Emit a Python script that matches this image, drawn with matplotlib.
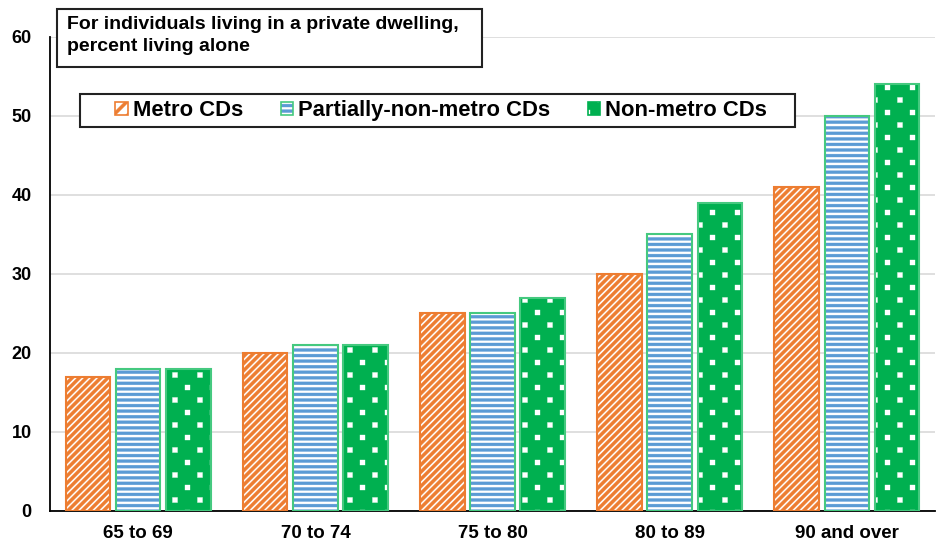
import matplotlib
matplotlib.use("Agg")
import matplotlib.pyplot as plt
import matplotlib.hatch as mhatch
from matplotlib.path import Path
from matplotlib.patches import Rectangle
from matplotlib.legend_handler import HandlerTuple
import numpy as np

plt.rcParams['font.family'] = ['Liberation Sans', 'DejaVu Sans']
plt.rcParams['font.weight'] = 'bold'
plt.rcParams['hatch.linewidth'] = 0.25

categories = ["65 to 69", "70 to 74", "75 to 80", "80 to 89", "90 and over"]
series_names = ["Metro CDs", "Partially-non-metro CDs", "Non-metro CDs"]
metro = [17, 20, 25, 30, 41]
partial = [18, 21, 25, 35, 50]
nonmetro = [18, 21, 27, 39, 54]
y_ticks = [0, 10, 20, 30, 40, 50, 60]

ORANGE = "#ED7D31"
BLUE = "#5B9BD5"
GREEN = "#00B050"
GREEN_EDGE = "#45C97F"


# --- custom fill patterns (solid polygons, so the stripe width is geometric) ---
class _PolygonHatch(mhatch.HatchPatternBase):
    def _finish(self, polys):
        self.polys = polys
        self.num_vertices = sum(len(p) + 1 for p in polys)

    def set_vertices_and_codes(self, vertices, codes):
        i = 0
        for p in self.polys:
            n = len(p)
            vertices[i:i + n] = p
            vertices[i + n] = p[0]
            codes[i] = Path.MOVETO
            codes[i + 1:i + n] = Path.LINETO
            codes[i + n] = Path.CLOSEPOLY
            i += n + 1


class DiagonalBands(_PolygonHatch):
    """'/' bands: 7 bands per '/' character."""
    half = 0.022

    def __init__(self, hatch, density):
        n = hatch.count('/') * 7
        polys = []
        if n:
            for k in range(-n // 2 - 1, n // 2 + 2):
                c = 2.0 * k / n
                h = self.half
                polys.append(np.array([[c - h - 0.1, -0.1], [c + h - 0.1, -0.1],
                                       [c + h + 1.1, 1.1], [c - h + 1.1, 1.1]]))
        self._finish(polys)


class HorizontalBands(_PolygonHatch):
    """'-' bands: 6 bands per '-' character."""
    half = 0.0145

    def __init__(self, hatch, density):
        n = hatch.count('-') * 6
        polys = []
        for k in range(n + 1) if n else []:
            y = k / n
            h = self.half
            polys.append(np.array([[-0.1, y - h], [1.1, y - h], [1.1, y + h], [-0.1, y + h]]))
        self._finish(polys)


class SquareDots(_PolygonHatch):
    """Staggered grid of small filled squares, one grid per '*'."""
    ncols = 4
    nrows = 8
    side = 0.05

    def __init__(self, hatch, density):
        polys = []
        if hatch.count('*'):
            h = self.side / 2
            for r in range(self.nrows + 1):
                y = r / self.nrows
                shift = 0.0 if r % 2 == 0 else 0.5 / self.ncols
                for c in range(-1, self.ncols + 1):
                    cx = c / self.ncols + shift
                    polys.append(np.array([[cx - h, y - h], [cx + h, y - h],
                                           [cx + h, y + h], [cx - h, y + h]]))
        self._finish(polys)


mhatch._hatch_types = [t for t in mhatch._hatch_types
                       if t not in (mhatch.NorthEastHatch, mhatch.HorizontalHatch, mhatch.Stars)]
mhatch._hatch_types += [DiagonalBands, HorizontalBands, SquareDots]


fig = plt.figure(figsize=(9.39, 5.43), dpi=100)
ax = fig.add_axes([0.053, 0.059, 0.943, 0.873])

x = np.arange(len(categories))
w = 0.25
off = 0.283

# Metro: orange diagonal stripes on white
ax.bar(x - off, metro, w, facecolor="white", edgecolor=ORANGE, hatch="////", linewidth=0, zorder=3)
ax.bar(x - off, metro, w, fill=False, edgecolor=ORANGE, linewidth=1.5, zorder=4)

# Partially-non-metro: blue horizontal stripes, green outline
ax.bar(x, partial, w, facecolor="white", edgecolor=BLUE, hatch="---", linewidth=0, zorder=3)
ax.bar(x, partial, w, fill=False, edgecolor=GREEN_EDGE, linewidth=1.5, zorder=4)

# Non-metro: green with white squares
ax.bar(x + off, nonmetro, w, facecolor=GREEN, edgecolor="white", hatch="*", linewidth=0, zorder=3)
ax.bar(x + off, nonmetro, w, fill=False, edgecolor=GREEN_EDGE, linewidth=1.5, zorder=4)

ax.set_xlim(-0.5, len(categories) - 0.5)
ax.set_ylim(0, 60)
ax.set_yticks(y_ticks)
ax.set_yticklabels([str(v) for v in y_ticks], fontsize=13, fontweight='bold')
ax.set_xticks(x)
ax.set_xticklabels(categories, fontsize=13.5, fontweight='bold')
ax.tick_params(axis='x', length=0, pad=10)
ax.tick_params(axis='y', length=0, pad=13)
ax.yaxis.grid(True, color="#D9D9D9", linewidth=1.2, zorder=0)
ax.set_axisbelow(True)
for s in ["top", "right"]:
    ax.spines[s].set_visible(False)
for s in ["left", "bottom"]:
    ax.spines[s].set_color("black")
    ax.spines[s].set_linewidth(1.3)

# Legend
h_metro = Rectangle((0, 0), 1, 1, facecolor="white", edgecolor=ORANGE, hatch="//", linewidth=1.2)
h_part_fill = Rectangle((0, 0), 1, 1, facecolor="white", edgecolor=BLUE, hatch="---", linewidth=0)
h_part_edge = Rectangle((0, 0), 1, 1, fill=False, edgecolor=GREEN_EDGE, linewidth=1.2)
h_non = Rectangle((0, 0), 1, 1, facecolor=GREEN, edgecolor="white", hatch="*", linewidth=0)
h_non_edge = Rectangle((0, 0), 1, 1, fill=False, edgecolor=GREEN, linewidth=1.2)
leg = fig.legend([h_metro, (h_part_fill, h_part_edge), (h_non, h_non_edge)], series_names,
                 handler_map={tuple: HandlerTuple(ndivide=1, pad=0)},
                 loc="center", bbox_to_anchor=(441 / 939, 1 - 110.5 / 543),
                 ncol=3, frameon=False, prop={'weight': 'bold', 'size': 15.8},
                 handlelength=0.55, handleheight=0.55, handletextpad=0.23,
                 columnspacing=1.72, borderpad=0, borderaxespad=0)
fig.patches.append(Rectangle((80 / 939, 1 - 127 / 543), (795 - 80) / 939, 33 / 543,
                             transform=fig.transFigure, facecolor="white",
                             edgecolor="#222222", linewidth=1.5, zorder=5))
leg.set_zorder(6)

# Title box
fig.patches.append(Rectangle((57 / 939, 1 - 67 / 543), (482 - 57) / 939, 58 / 543,
                             transform=fig.transFigure, facecolor="white",
                             edgecolor="#222222", linewidth=1.5, zorder=5))
fig.text(67 / 939, 1 - 35.5 / 543, "For individuals living in a private dwelling,\npercent living alone",
         fontsize=14, fontweight='bold', va="center", ha="left", linespacing=1.4, zorder=6)

fig.savefig("out.png", dpi=100)
